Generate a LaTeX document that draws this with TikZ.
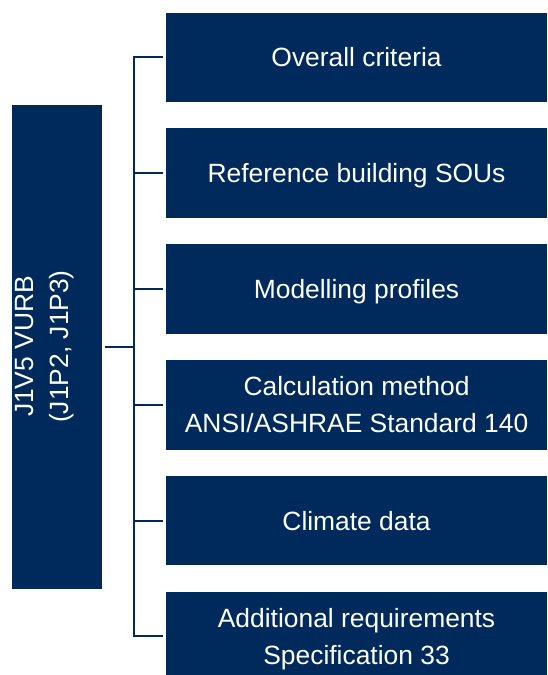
\documentclass[tikz,border=0pt]{standalone}
\usepackage{fontspec}
\setmainfont{Liberation Sans}
\definecolor{navy}{RGB}{0,42,92}
\newcommand\bxstrut{\rule[-8pt]{0pt}{35pt}}
\begin{document}
\begin{tikzpicture}[x=1pt,y=-1pt,
  box/.style={fill=navy,draw=none,inner sep=0pt,anchor=north west,
    minimum width=381.3pt,minimum height=89.7pt,text=white,align=center,
    font=\fontsize{26.4}{37}\selectfont},
  side/.style={fill=navy,draw=none,inner sep=0pt,anchor=north west,
    minimum width=90pt,minimum height=484.4pt},
  sidetext/.style={text=white,rotate=90,anchor=base,inner sep=0pt,
    font=\fontsize{26.4}{30}\selectfont},
  conn/.style={draw=navy,line width=2pt}]
\useasboundingbox (0,0) rectangle (547,675);
\clip (0,0) rectangle (547,675);
\node[side] (L) at (12,104.3) {};
\node[sidetext] (l1) at (33,346.5) {J1V5 VURB};
\node[sidetext] (l2) at (68,346.5) {(J1P2, J1P3)};
\node[box] (b1) at (165.7,12.3) {\bxstrut Overall criteria};
\node[box] (b2) at (165.7,128.1) {\bxstrut Reference building SOUs};
\node[box] (b3) at (165.7,243.9) {\bxstrut Modelling profiles};
\node[box] (b4) at (165.7,359.7) {\bxstrut Calculation method\\\bxstrut ANSI/ASHRAE Standard 140};
\node[box] (b5) at (165.7,475.5) {\bxstrut Climate data};
\node[box] (b6) at (165.7,591.3) {\bxstrut Additional requirements\\\bxstrut Specification 33};
\coordinate (spine) at (134,0);
\coordinate (top) at (spine |- b1.west);
\coordinate (bot) at (spine |- b6.west);
\draw[conn] ([xshift=3pt]L.east) -- (spine |- L.east);
\draw[conn,line cap=butt] ([xshift=-3pt]b1.west) -- (top) -- (bot) -- ([xshift=-3pt]b6.west);
\foreach \b in {b2,b3,b4,b5}{
  \draw[conn] (spine |- \b.west) -- ([xshift=-3pt]\b.west);
}
\end{tikzpicture}
\end{document}
